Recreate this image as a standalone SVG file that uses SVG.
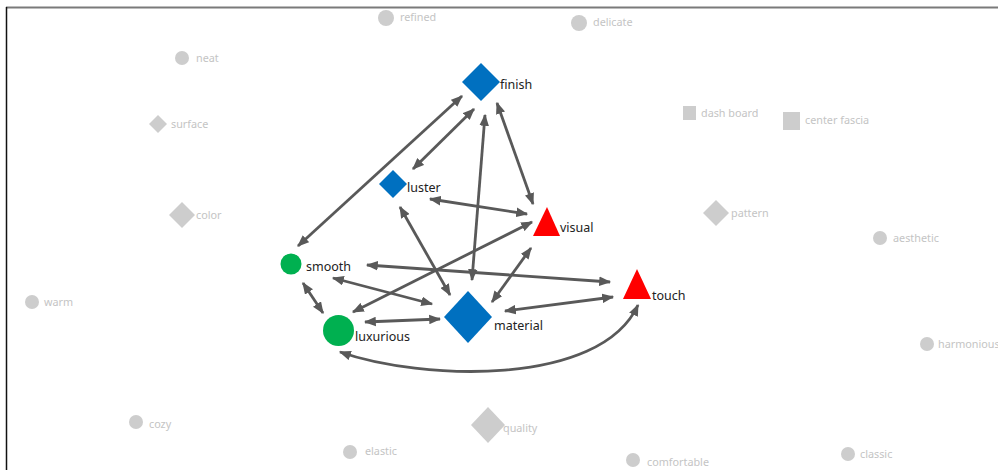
<svg xmlns="http://www.w3.org/2000/svg" width="998" height="470" viewBox="0 0 998 470">
<style>
.lbl{font-family:"Noto Sans","Open Sans","Liberation Sans",sans-serif;font-size:12.5px;fill:#222}
.glbl{font-family:"Noto Sans","Open Sans","Liberation Sans",sans-serif;font-size:10.8px;fill:#c4c4c4}
.g{fill:#cdcdcd}
.blue{fill:#0070c0}
.red{fill:#ff0000}
.green{fill:#00b050}
.e{fill:none;stroke:#595959;stroke-width:2.8;marker-start:url(#ah);marker-end:url(#ah)}
</style>
<defs>
<marker id="ah" viewBox="0 0 10 8" markerUnits="userSpaceOnUse" markerWidth="12" markerHeight="10" refX="9" refY="4" orient="auto-start-reverse">
<path d="M0,0 L10,4 L0,8 z" fill="#595959"/>
</marker>
</defs>
<rect width="998" height="470" fill="#fff"/>
<line x1="6" y1="7.5" x2="998" y2="7.5" stroke="#7a7a7a" stroke-width="2"/>
<line x1="6.5" y1="7" x2="6.5" y2="470" stroke="#111" stroke-width="1.5"/>

<g id="gray-nodes">
<g id="refined"><circle class="g" cx="386" cy="18" r="8"/><text class="glbl" x="400" y="21">refined</text></g>
<g id="delicate"><circle class="g" cx="579" cy="23" r="8"/><text class="glbl" x="593" y="26">delicate</text></g>
<g id="neat"><circle class="g" cx="182" cy="58" r="7"/><text class="glbl" x="196" y="62">neat</text></g>
<g id="surface"><polygon class="g" points="158,115 167,124 158,133 149,124"/><text class="glbl" x="171" y="128">surface</text></g>
<g id="color"><polygon class="g" points="182,202 195,215 182,228 169,215"/><text class="glbl" x="196" y="219">color</text></g>
<g id="warm"><circle class="g" cx="32" cy="302" r="7"/><text class="glbl" x="44" y="306">warm</text></g>
<g id="dash-board"><rect class="g" x="683" y="106" width="13" height="14"/><text class="glbl" x="701" y="117">dash board</text></g>
<g id="center-fascia"><rect class="g" x="783" y="112" width="17" height="18"/><text class="glbl" x="805" y="124">center fascia</text></g>
<g id="pattern"><polygon class="g" points="716,200 729,213 716,226 703,213"/><text class="glbl" x="731" y="217">pattern</text></g>
<g id="aesthetic"><circle class="g" cx="880" cy="238" r="7"/><text class="glbl" x="893" y="242">aesthetic</text></g>
<g id="harmonious"><circle class="g" cx="927" cy="344" r="7"/><text class="glbl" x="938" y="348">harmonious</text></g>
<g id="cozy"><circle class="g" cx="136" cy="422" r="7"/><text class="glbl" x="149" y="428">cozy</text></g>
<g id="elastic"><circle class="g" cx="350" cy="452" r="7"/><text class="glbl" x="365" y="455">elastic</text></g>
<g id="quality"><polygon class="g" points="488,407 505,425 488,443 471,425"/><text class="glbl" x="503" y="432">quality</text></g>
<g id="comfortable"><circle class="g" cx="633" cy="460" r="7"/><text class="glbl" x="647" y="466">comfortable</text></g>
<g id="classic"><circle class="g" cx="848" cy="454" r="7"/><text class="glbl" x="860" y="458">classic</text></g>
</g>

<g id="connectors">
<path class="e" d="M462,96 L298,246"/>
<path class="e" d="M474,109 L413,169"/>
<path class="e" d="M485,115 L472,280"/>
<path class="e" d="M497,103 L533,204"/>
<path class="e" d="M430,199 L527,214"/>
<path class="e" d="M400,207 L450,295"/>
<path class="e" d="M532,222 L353,312"/>
<path class="e" d="M531,248 L492,302"/>
<path class="e" d="M367,265 L610,282"/>
<path class="e" d="M333,278 L432,304"/>
<path class="e" d="M303,283 L323,313"/>
<path class="e" d="M365,322 L440,319"/>
<path class="e" d="M505,311 L613,297"/>
<path class="e" d="M340,352 C420,380 600,388 638,305"/>
</g>

<g id="finish"><polygon class="blue" points="481,63 500,82 481,101 462,82"/><text class="lbl" x="500" y="89">finish</text></g>
<g id="luster"><polygon class="blue" points="393,170 407,184 393,198 379,184"/><text class="lbl" x="407" y="192">luster</text></g>
<g id="visual"><polygon class="red" points="547,207 560,236 533,236"/><text class="lbl" x="560" y="232">visual</text></g>
<g id="smooth"><circle class="green" cx="291" cy="264" r="10.5"/><text class="lbl" x="306" y="271">smooth</text></g>
<g id="luxurious"><circle class="green" cx="338.5" cy="330.5" r="15.5"/><text class="lbl" x="355" y="341">luxurious</text></g>
<g id="material"><polygon class="blue" points="468,291 492,317 468,343 444,317"/><text class="lbl" x="494" y="330">material</text></g>
<g id="touch"><polygon class="red" points="637,269 651,299 623,299"/><text class="lbl" x="652" y="300">touch</text></g>
</svg>
